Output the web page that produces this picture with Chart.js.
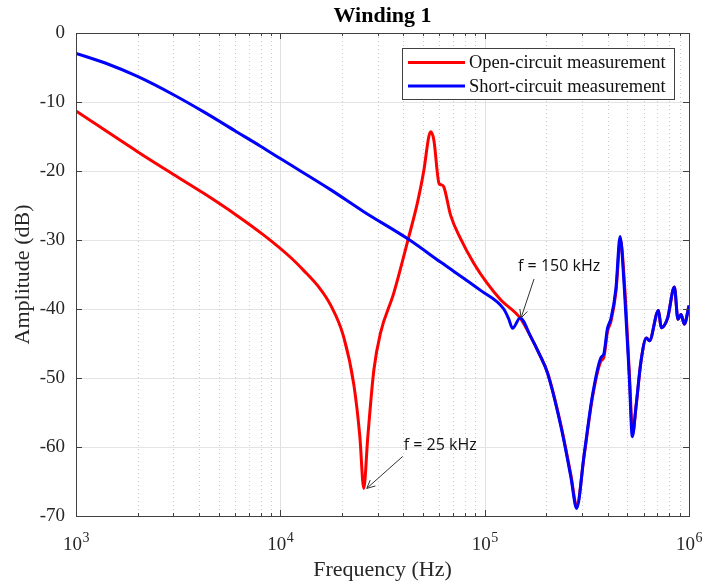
<!DOCTYPE html>
<html>
<head>
<meta charset="utf-8">
<script src="https://cdn.jsdelivr.net/npm/chart.js@4/dist/chart.umd.min.js"></script>
<style>
html,body{margin:0;padding:0;background:#fff;}
#wrap{width:706px;height:586px;position:relative;}
</style>
</head>
<body>
<div id="wrap"><canvas id="c" width="706" height="586"></canvas></div>
<script>
// ---- data ----
const freqOpen = [1000, 2000, 3000, 4200, 6100, 8300, 11200, 13000, 15500, 17600,
  20400, 22900, 24500, 25600, 26800, 28700, 30900, 35900, 42300, 46800,
  50400, 53300, 54500, 56400, 59800, 61300, 63100, 68100, 76200, 88600,
  103000, 120000, 149000, 168000, 185000, 203000, 236000, 264000, 282000, 307000,
  337000, 370000, 383000, 399000, 415000, 439000, 462000, 485000, 512000, 530000,
  550000, 582000, 619000, 640000, 709000, 731000, 786000, 848000, 883000, 914000,
  949000, 1000000];
const dbOpen = [-11.3, -17.2, -20.5, -23.2, -26.4, -29.3, -32.5, -34.4, -36.9, -39.4,
  -44.0, -51.0, -58.5, -66.0, -58.5, -48.8, -43.5, -37.7, -29.8, -24.7,
  -19.9, -15.0, -14.3, -15.5, -21.8, -22.0, -22.3, -26.4, -29.8, -33.4,
  -36.3, -38.7, -41.3, -44.0, -46.5, -49.2, -56.8, -64.0, -68.5, -61.2,
  -52.8, -47.6, -47.0, -43.3, -41.8, -37.5, -30.0, -37.0, -50.0, -58.0,
  -54.3, -47.6, -44.2, -44.6, -40.2, -42.7, -41.3, -36.8, -41.5, -40.8,
  -42.2, -39.5];
const freqShort = [1000, 1390, 2000, 3000, 4200, 6100, 8000, 10000, 17600, 25600,
  42400, 60800, 95500, 124000, 131000, 137000, 149000, 168000, 185000, 203000,
  236000, 264000, 282000, 307000, 337000, 370000, 383000, 399000, 415000, 439000,
  460000, 482000, 510000, 528000, 550000, 582000, 619000, 640000, 709000, 731000,
  786000, 848000, 883000, 914000, 949000, 1000000];
const dbShort = [-2.95, -4.35, -6.3, -8.95, -11.4, -14.3, -16.4, -18.2, -22.7, -25.9,
  -29.9, -33.2, -37.3, -40.0, -41.4, -42.8, -41.3, -44.0, -46.5, -49.3,
  -57.0, -64.3, -68.9, -61.0, -52.5, -47.1, -46.5, -42.8, -41.4, -37.0,
  -29.5, -36.8, -49.8, -58.5, -54.2, -47.6, -44.2, -44.6, -40.2, -42.7,
  -41.3, -36.8, -41.5, -40.8, -42.2, -39.5];
const seriesLabels = ['Open-circuit measurement', 'Short-circuit measurement'];
const yTickValues = [0, -10, -20, -30, -40, -50, -60, -70];
const xDecades = [1000, 10000, 100000, 1000000];
const xDecadeExponents = ['3', '4', '5', '6'];
const annotations = [
  {text: 'f = 25 kHz', f: 25600, db: -66.0},
  {text: 'f = 150 kHz', f: 149000, db: -41.3}
];
const titleText = 'Winding 1';
const xTitle = 'Frequency (Hz)';
const yTitle = 'Amplitude (dB)';

const RED = '#ff0000', BLUE = '#0000ff';
const TXT = '#262626';
const SERIF = '"Liberation Serif", "Times New Roman", serif';

function pts(fs, vs){ return fs.map((f,i)=>({x:f, y:vs[i]})); }

const decor = {
  id: 'decor',
  beforeDatasetsDraw(chart){
    const {ctx, chartArea:a, scales:{x,y}} = chart;
    ctx.save();
    ctx.lineWidth = 1;
    ctx.strokeStyle = '#e4e4e4';
    yTickValues.forEach(v=>{
      const py = Math.round(y.getPixelForValue(v))+0.5;
      ctx.beginPath(); ctx.moveTo(a.left,py); ctx.lineTo(a.right,py); ctx.stroke();
    });
    for (let d=0; d<3; d++){
      for (let m=1; m<=9; m++){
        const f = xDecades[d]*m;
        const px = Math.round(x.getPixelForValue(f))+0.5;
        ctx.beginPath();
        if (m===1){ ctx.setLineDash([]); ctx.strokeStyle='#e0e0e0'; }
        else { ctx.setLineDash([1,3]); ctx.strokeStyle='#c8c8c8'; }
        ctx.moveTo(px,a.top); ctx.lineTo(px,a.bottom); ctx.stroke();
      }
    }
    ctx.setLineDash([]);
    ctx.restore();
  },
  afterDatasetsDraw(chart){
    const {ctx, chartArea:a, scales:{x,y}} = chart;
    ctx.save();
    ctx.strokeStyle = '#404040'; ctx.lineWidth = 1;
    ctx.strokeRect(Math.round(a.left)+0.5, Math.round(a.top)+0.5, Math.round(a.right-a.left), Math.round(a.bottom-a.top));
    yTickValues.forEach(v=>{
      const py = Math.round(y.getPixelForValue(v))+0.5;
      ctx.beginPath();
      ctx.moveTo(a.left,py); ctx.lineTo(a.left+6,py);
      ctx.moveTo(a.right,py); ctx.lineTo(a.right-6,py);
      ctx.stroke();
    });
    for (let d=0; d<4; d++){
      for (let m=1; m<=9; m++){
        if (d===3 && m>1) break;
        const f = xDecades[d]*m;
        const px = Math.round(x.getPixelForValue(f))+0.5;
        const len = m===1 ? 6 : 3;
        ctx.beginPath();
        ctx.moveTo(px,a.bottom); ctx.lineTo(px,a.bottom-len);
        ctx.moveTo(px,a.top); ctx.lineTo(px,a.top+len);
        ctx.stroke();
      }
    }
    ctx.fillStyle = TXT;
    ctx.textBaseline = 'alphabetic';
    ctx.textAlign = 'left';
    xDecades.forEach((f,i)=>{
      const px = x.getPixelForValue(f);
      ctx.font = '19px ' + SERIF;
      const wBase = ctx.measureText('10').width;
      ctx.font = '14px ' + SERIF;
      const wExp = ctx.measureText(xDecadeExponents[i]).width;
      const left = px - (wBase + wExp)/2;
      ctx.font = '19px ' + SERIF;
      ctx.fillText('10', left, 550);
      ctx.font = '14px ' + SERIF;
      ctx.fillText(xDecadeExponents[i], left + wBase + 0.5, 542);
    });
    ctx.font = '22px ' + SERIF;
    ctx.textAlign = 'center'; ctx.textBaseline = 'middle';
    ctx.fillText(xTitle, (a.left+a.right)/2, 570);
    ctx.save();
    ctx.translate(23, (a.top+a.bottom)/2);
    ctx.rotate(-Math.PI/2);
    ctx.fillText(yTitle, 0, 0);
    ctx.restore();
    ctx.font = 'bold 22px ' + SERIF;
    ctx.fillStyle = '#000';
    ctx.fillText(titleText, (a.left+a.right)/2, 16.5);
    const lx = 402.5, ly = 48.5, lw = 272, lh = 51;
    ctx.fillStyle = '#fff';
    ctx.fillRect(lx, ly, lw, lh);
    ctx.strokeStyle = '#404040'; ctx.lineWidth = 1;
    ctx.strokeRect(lx, ly, lw, lh);
    const cols = [RED, BLUE];
    ctx.font = '18.5px ' + SERIF;
    ctx.textAlign = 'left'; ctx.textBaseline = 'middle';
    seriesLabels.forEach((lab,i)=>{
      const yy = 62.5 + i*23.5;
      ctx.strokeStyle = cols[i]; ctx.lineWidth = 3;
      ctx.beginPath(); ctx.moveTo(408, yy); ctx.lineTo(465, yy); ctx.stroke();
      ctx.fillStyle = '#111';
      ctx.fillText(lab, 469, yy+1);
    });
    const offs = [
      {tx:37, ty:-43, ax:36, ay:-32, hx:3},
      {tx:-3, ty:-52, ax:13, ay:-39, hx:1}
    ];
    annotations.forEach((an,i)=>{
      const o = offs[i];
      const px = x.getPixelForValue(an.f) + o.hx;
      const py = y.getPixelForValue(an.db);
      const sx = px + o.ax, sy = py + o.ay;
      ctx.strokeStyle = '#333'; ctx.lineWidth = 1;
      ctx.beginPath(); ctx.moveTo(sx,sy); ctx.lineTo(px,py); ctx.stroke();
      const ang = Math.atan2(py-sy, px-sx);
      const hl = 9, hw = 0.45;
      ctx.beginPath();
      ctx.moveTo(px - hl*Math.cos(ang-hw), py - hl*Math.sin(ang-hw));
      ctx.lineTo(px,py);
      ctx.lineTo(px - hl*Math.cos(ang+hw), py - hl*Math.sin(ang+hw));
      ctx.stroke();
      ctx.fillStyle = '#111';
      ctx.font = '16px "Open Sans", "Liberation Sans", sans-serif';
      ctx.textAlign = 'left'; ctx.textBaseline = 'middle';
      ctx.fillText(an.text, px + o.tx, py + o.ty);
    });
    ctx.restore();
  }
};

new Chart(document.getElementById('c'), {
  type: 'line',
  data: {
    datasets: [
      {label: seriesLabels[0], data: pts(freqOpen, dbOpen), borderColor: RED, borderWidth: 3,
       pointRadius: 0, fill: false, cubicInterpolationMode: 'monotone', order: 2},
      {label: seriesLabels[1], data: pts(freqShort, dbShort), borderColor: BLUE, borderWidth: 3,
       pointRadius: 0, fill: false, cubicInterpolationMode: 'monotone', order: 1}
    ]
  },
  options: {
    responsive: false,
    animation: false,
    events: [],
    layout: {autoPadding: false, padding: {left: 0, right: 17, top: 33, bottom: 0}},
    plugins: {legend: {display: false}, title: {display: false}, tooltip: {enabled: false}},
    scales: {
      x: {
        type: 'logarithmic', min: 1000, max: 1000000,
        grid: {display: false, drawTicks: false},
        border: {display: false},
        ticks: {display: false},
        afterFit(s){ s.height = 70; }
      },
      y: {
        type: 'linear', min: -70, max: 0,
        grid: {display: false, drawTicks: false},
        border: {display: false},
        ticks: {stepSize: 10, padding: 11, color: TXT, font: {family: SERIF, size: 19}},
        afterFit(s){ s.width = 76; }
      }
    }
  },
  plugins: [decor]
});
</script>
</body>
</html>
